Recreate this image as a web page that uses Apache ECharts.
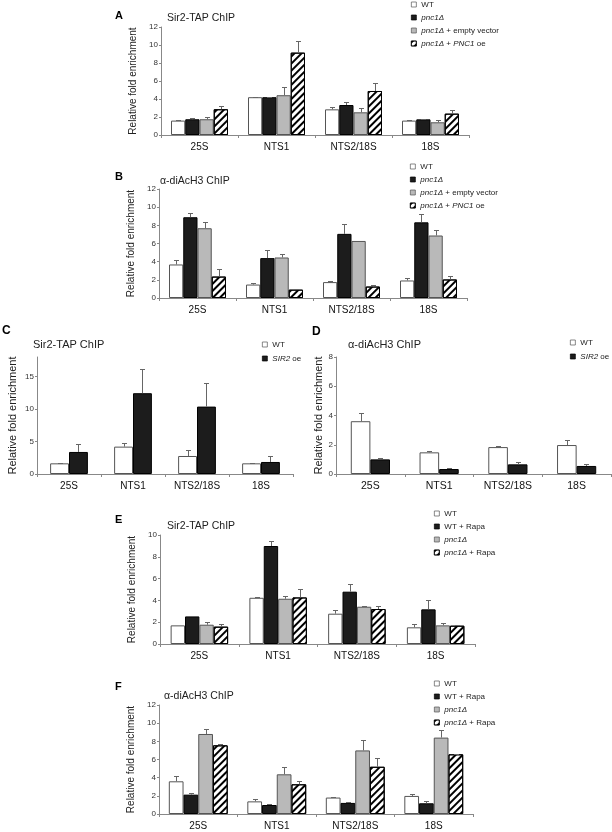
<!DOCTYPE html>
<html><head><meta charset="utf-8">
<script src="https://cdn.jsdelivr.net/npm/echarts@6/dist/echarts.min.js"></script>
<style>html,body{margin:0;padding:0;background:#fff}#c{width:612px;height:832px}</style>
</head><body><div id="c"></div>
<script>
// ---------- DATA ----------
const categories = ['25S', 'NTS1', 'NTS2/18S', '18S'];

// Panel A: Sir2-TAP ChIP
const A_wt = [1.6, 4.2, 2.85, 1.6];          const A_wt_err = [0.05, 0.07, 0.22, 0.12];
const A_pnc1 = [1.75, 4.2, 3.33, 1.74];      const A_pnc1_err = [0.1, 0.07, 0.3, 0.07];
const A_empty = [1.75, 4.42, 2.52, 1.41];    const A_empty_err = [0.3, 0.86, 0.44, 0.22];
const A_pnc1oe = [2.86, 9.15, 4.89, 2.37];   const A_pnc1oe_err = [0.41, 1.25, 0.85, 0.37];

// Panel B: α-diAcH3 ChIP
const B_wt = [3.69, 1.48, 1.75, 1.93];       const B_wt_err = [0.48, 0.14, 0.11, 0.23];
const B_pnc1 = [8.89, 4.39, 7.06, 8.33];     const B_pnc1_err = [0.45, 0.89, 1.12, 0.96];
const B_empty = [7.68, 4.46, 6.28, 6.88];    const B_empty_err = [0.66, 0.41, 0.0, 0.63];
const B_pnc1oe = [2.36, 0.92, 1.26, 2.04];   const B_pnc1oe_err = [0.81, 0.11, 0.12, 0.34];

// Panel C: Sir2-TAP ChIP
const C_wt = [1.64, 4.21, 2.77, 1.64];       const C_wt_err = [0.11, 0.62, 0.93, 0.11];
const C_sir2oe = [3.39, 12.43, 10.37, 1.85]; const C_sir2oe_err = [1.18, 3.7, 3.6, 0.92];

// Panel D: α-diAcH3 ChIP
const D_wt = [3.61, 1.48, 1.84, 1.98];       const D_wt_err = [0.53, 0.09, 0.09, 0.34];
const D_sir2oe = [1.0, 0.34, 0.66, 0.55];    const D_sir2oe_err = [0.09, 0.09, 0.16, 0.13];

// Panel E: Sir2-TAP ChIP
const E_wt = [1.71, 4.24, 2.78, 1.53];       const E_wt_err = [0.0, 0.06, 0.34, 0.27];
const E_wtRapa = [2.53, 8.99, 4.8, 3.18];    const E_wtRapa_err = [0.06, 0.46, 0.7, 0.82];
const E_pnc1 = [1.77, 4.15, 3.42, 1.71];     const E_pnc1_err = [0.21, 0.21, 0.1, 0.19];
const E_pnc1Rapa = [1.59, 4.27, 3.21, 1.68]; const E_pnc1Rapa_err = [0.24, 0.76, 0.31, 0.09];

// Panel F: α-diAcH3 ChIP
const F_wt = [3.6, 1.39, 1.81, 1.99];        const F_wt_err = [0.55, 0.22, 0.07, 0.22];
const F_wtRapa = [2.13, 0.99, 1.22, 1.18];   const F_wtRapa_err = [0.15, 0.07, 0.07, 0.3];
const F_pnc1 = [8.81, 4.37, 7.0, 8.41];      const F_pnc1_err = [0.51, 0.77, 1.1, 0.89];
const F_pnc1Rapa = [7.56, 3.27, 5.2, 6.57];  const F_pnc1Rapa_err = [0.11, 0.36, 1.0, 0.07];

// Labels
const panelLetters = ['A', 'B', 'C', 'D', 'E', 'F'];
const panelTitles = ['Sir2-TAP ChIP', 'α-diAcH3 ChIP', 'Sir2-TAP ChIP', 'α-diAcH3 ChIP', 'Sir2-TAP ChIP', 'α-diAcH3 ChIP'];
const yAxisName = 'Relative fold enrichment';
const legendAB = ['WT', '{i|pnc1Δ}', '{i|pnc1Δ} + empty vector', '{i|pnc1Δ} + {i|PNC1} oe'];
const legendCD = ['WT', '{i|SIR2} oe'];
const legendEF = ['WT', 'WT + Rapa', '{i|pnc1Δ}', '{i|pnc1Δ} + Rapa'];
const yMax = [12, 12, 18, 8, 10, 12];
const yInterval = [2, 2, 5, 2, 2, 2];

// ---------- STYLE / LAYOUT ----------
const FONT = 'Liberation Sans, Arial, Helvetica, sans-serif';
const styles = {
  white: { color: '#ffffff', borderColor: '#555', borderWidth: 1 },
  black: { color: '#1c1c1c', borderColor: '#000', borderWidth: 1 },
  gray:  { color: '#b9b9b9', borderColor: '#555', borderWidth: 1 },
  hatch: { color: '#ffffff', borderColor: '#000', borderWidth: 1,
           decal: { symbol: 'rect', symbolSize: 1, dashArrayX: [1, 0], dashArrayY: [1.1, 2.4], rotation: -Math.PI / 4, color: '#000' } }
};

const panels = [
  { grid: { left: 161, top: 27, width: 308, height: 108 }, gap: 0.26, nameGap: 21, nameSize: 10, catSize: 10,
    letter: [115, 10, 11], title: [167, 13, 10.5], legend: [411, 0, 4], legendLabels: legendAB,
    series: [[A_wt, A_wt_err, 'white'], [A_pnc1, A_pnc1_err, 'black'], [A_empty, A_empty_err, 'gray'], [A_pnc1oe, A_pnc1oe_err, 'hatch']] },
  { grid: { left: 159, top: 189, width: 308, height: 109 }, gap: 0.26, nameGap: 20, nameSize: 10, catSize: 10,
    letter: [115, 171, 11], title: [160, 176, 10.5], legend: [410, 162, 4], legendLabels: legendAB,
    series: [[B_wt, B_wt_err, 'white'], [B_pnc1, B_pnc1_err, 'black'], [B_empty, B_empty_err, 'gray'], [B_pnc1oe, B_pnc1oe_err, 'hatch']] },
  { grid: { left: 37, top: 357, width: 256, height: 117 }, gap: 0.41, nameGap: 19, nameSize: 11, catSize: 10,
    letter: [2, 325, 12], title: [33, 339, 11], legend: [262, 340, 5], legendLabels: legendCD,
    series: [[C_wt, C_wt_err, 'white'], [C_sir2oe, C_sir2oe_err, 'black']] },
  { grid: { left: 336, top: 357, width: 275, height: 117 }, gap: 0.43, nameGap: 9, nameSize: 11, catSize: 10.5,
    letter: [312, 326, 12], title: [348, 339, 11], legend: [570, 338, 5], legendLabels: legendCD,
    series: [[D_wt, D_wt_err, 'white'], [D_sir2oe, D_sir2oe_err, 'black']] },
  { grid: { left: 160, top: 535, width: 315, height: 109 }, gap: 0.27, nameGap: 21, nameSize: 10, catSize: 10,
    letter: [115, 514, 11], title: [167, 521, 10.5], legend: [434, 509, 4], legendLabels: legendEF,
    series: [[E_wt, E_wt_err, 'white'], [E_wtRapa, E_wtRapa_err, 'black'], [E_pnc1, E_pnc1_err, 'gray'], [E_pnc1Rapa, E_pnc1Rapa_err, 'hatch']] },
  { grid: { left: 159, top: 705, width: 314, height: 109 }, gap: 0.25, nameGap: 20, nameSize: 10, catSize: 10,
    letter: [115, 681, 11], title: [164, 691, 10.5], legend: [434, 679, 4], legendLabels: legendEF,
    series: [[F_wt, F_wt_err, 'white'], [F_wtRapa, F_wtRapa_err, 'black'], [F_pnc1, F_pnc1_err, 'gray'], [F_pnc1Rapa, F_pnc1Rapa_err, 'hatch']] }
];

const option = { animation: false, backgroundColor: '#fff', textStyle: { fontFamily: FONT },
  grid: [], xAxis: [], yAxis: [], series: [], title: [], legend: [] };

panels.forEach((p, gi) => {
  const L = panelLetters[gi];
  option.grid.push(Object.assign({ containLabel: false }, p.grid));
  option.xAxis.push({ type: 'category', gridIndex: gi, data: categories,
    axisLine: { lineStyle: { color: '#888', width: 1 } },
    axisTick: { show: true, length: 3, lineStyle: { color: '#888' } },
    axisLabel: { fontSize: p.catSize, color: '#111', margin: 7, fontFamily: FONT } });
  option.yAxis.push({ type: 'value', gridIndex: gi, min: 0, max: yMax[gi], interval: yInterval[gi],
    name: yAxisName, nameLocation: 'middle', nameGap: p.nameGap, nameRotate: 90,
    nameTextStyle: { fontSize: p.nameSize, color: '#222', fontFamily: FONT },
    axisLine: { show: true, lineStyle: { color: '#888', width: 1 } },
    axisTick: { show: true, length: 2, lineStyle: { color: '#888' } },
    splitLine: { show: false },
    axisLabel: { fontSize: 8, color: '#333', margin: 3, showMaxLabel: gi !== 2, fontFamily: FONT } });
  const n = p.series.length;
  const legendNames = [];
  p.series.forEach((s, si) => {
    const nm = L + '#' + si;
    legendNames.push(nm);
    option.series.push({ type: 'bar', name: nm, xAxisIndex: gi, yAxisIndex: gi, data: s[0],
      barCategoryGap: (p.gap * 100) + '%', barGap: '0%', itemStyle: styles[s[2]], z: 2 });
  });
  p.series.forEach((s, si) => {
    const vals = s[0], errs = s[1], gap = p.gap;
    option.series.push({ type: 'custom', xAxisIndex: gi, yAxisIndex: gi, silent: true, z: 3,
      data: vals.map((v, i) => [i, v, errs[i]]),
      renderItem: function (params, api) {
        const ci = api.value(0), v = api.value(1), e = api.value(2);
        if (!(e > 0)) return null;
        const band = api.size([1, 0])[0];
        const gw = band * (1 - gap);
        const bw = gw / n;
        const base = api.coord([ci, v]);
        const top = api.coord([ci, v + e]);
        const cx = Math.round(base[0] - gw / 2 + (si + 0.5) * bw) + 0.5;
        const ty = Math.round(top[1]) + 0.5;
        return { type: 'group', children: [
          { type: 'line', shape: { x1: cx, y1: base[1], x2: cx, y2: ty }, style: { stroke: '#666', lineWidth: 1 } },
          { type: 'line', shape: { x1: cx - 2.5, y1: ty, x2: cx + 2.5, y2: ty }, style: { stroke: '#666', lineWidth: 1 } }
        ] };
      } });
  });
  const labels = p.legendLabels;
  option.legend.push({ orient: 'vertical', left: p.legend[0], top: p.legend[1], padding: 0,
    itemWidth: 5, itemHeight: 5, itemGap: p.legend[2], icon: 'rect', selectedMode: false,
    itemStyle: { borderWidth: 0.7 },
    data: legendNames,
    formatter: function (name) { return labels[+name.split('#')[1]]; },
    textStyle: { fontSize: 8, color: '#222', lineHeight: 9, fontFamily: FONT,
      rich: { i: { fontStyle: 'italic', fontSize: 8, lineHeight: 9, color: '#222', fontFamily: FONT } } } });
  option.title.push({ text: L, left: p.letter[0], top: p.letter[1], padding: 0,
    textStyle: { fontSize: p.letter[2], fontWeight: 'bold', color: '#000', fontFamily: FONT } });
  option.title.push({ text: panelTitles[gi], left: p.title[0], top: p.title[1], padding: 0,
    textStyle: { fontSize: p.title[2], fontWeight: 'normal', color: '#222', fontFamily: FONT } });
});

const chart = echarts.init(document.getElementById('c'), null, { renderer: 'canvas' });
chart.setOption(option);
</script></body></html>
